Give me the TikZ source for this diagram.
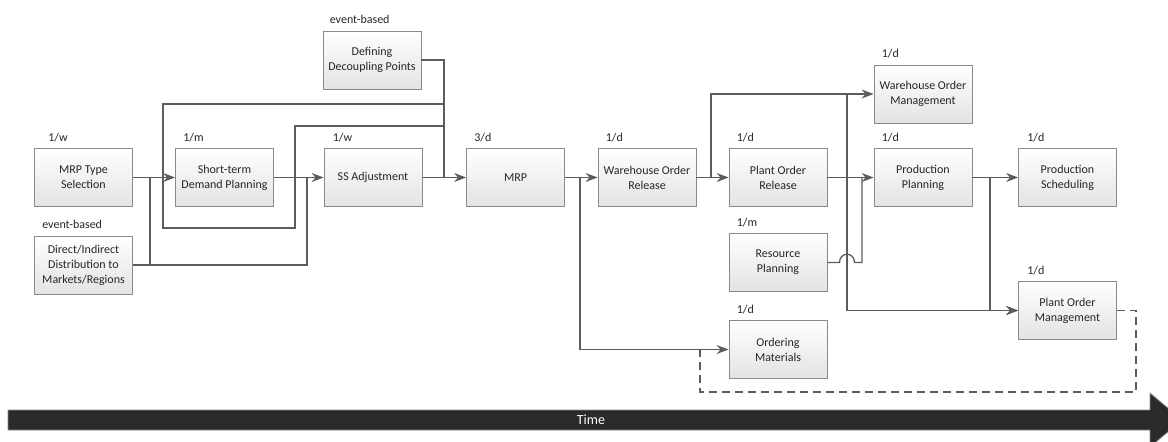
\documentclass[tikz,border=0pt]{standalone}
\usepackage{fontspec}
\setmainfont{Carlito}
\usetikzlibrary{arrows.meta}
\definecolor{boxgray}{HTML}{8A8A8A}
\definecolor{linegray}{HTML}{5C5C5C}
\definecolor{bardark}{HTML}{2A2A2A}
\begin{document}
\begin{tikzpicture}[x=1pt,y=-1pt,
  proc/.style={draw=boxgray, line width=0.8pt, top color=white, bottom color=black!11,
    minimum width=98pt, minimum height=58pt, align=center, inner sep=2pt,
    font=\fontsize{12}{15}\selectfont, text=black!85},
  freq/.style={anchor=base west, font=\fontsize{12}{14}\selectfont, inner sep=0pt, text=black!85},
  link/.style={draw=linegray, line width=1.3pt},
  flow/.style={link, -{Stealth[length=12pt,width=9pt,inset=4pt]}},
  feedback/.style={draw=linegray, line width=1.1pt, dash pattern=on 8pt off 5pt}
]
\useasboundingbox (0,0) rectangle (1168,442);

% process boxes
\node[proc] (mts) at (83.5,177.5) {MRP Type\\Selection};
\node[proc] (dir) at (83.5,265) {Direct/Indirect\\Distribution to\\Markets/Regions};
\node[proc] (std) at (224.5,177.5) {Short-term\\Demand Planning};
\node[proc] (ddp) at (372,60) {Defining\\Decoupling Points};
\node[proc] (ssa) at (373,177.5) {SS Adjustment};
\node[proc] (mrp) at (515.5,177.5) {MRP};
\node[proc] (wor) at (647,177.5) {Warehouse Order\\Release};
\node[proc] (por) at (778,177.5) {Plant Order\\Release};
\node[proc] (wom) at (923,94) {Warehouse Order\\Management};
\node[proc] (pp) at (923,177.5) {Production\\Planning};
\node[proc] (ps) at (1067.5,177.5) {Production\\Scheduling};
\node[proc] (rp) at (778,262.5) {Resource\\Planning};
\node[proc] (om) at (778,349.5) {Ordering\\Materials};
\node[proc] (pom) at (1067.5,310.5) {Plant Order\\Management};

% planning frequencies
\node[freq] (fmts) at ([xshift=14pt,yshift=7pt]mts.north west) {1/w};
\node[freq] (fdir) at ([xshift=8pt,yshift=7pt]dir.north west) {event-based};
\node[freq] (fstd) at ([xshift=8pt,yshift=7pt]std.north west) {1/m};
\node[freq] (fddp) at ([xshift=7pt,yshift=7pt]ddp.north west) {event-based};
\node[freq] (fssa) at ([xshift=9pt,yshift=7pt]ssa.north west) {1/w};
\node[freq] (fmrp) at ([xshift=8pt,yshift=7pt]mrp.north west) {3/d};
\node[freq] (fwor) at ([xshift=8pt,yshift=7pt]wor.north west) {1/d};
\node[freq] (fpor) at ([xshift=8pt,yshift=7pt]por.north west) {1/d};
\node[freq] (fwom) at ([xshift=8pt,yshift=7pt]wom.north west) {1/d};
\node[freq] (fpp) at ([xshift=8pt,yshift=7pt]pp.north west) {1/d};
\node[freq] (fps) at ([xshift=9pt,yshift=7pt]ps.north west) {1/d};
\node[freq] (frp) at ([xshift=8pt,yshift=7pt]rp.north west) {1/m};
\node[freq] (fom) at ([xshift=8pt,yshift=7pt]om.north west) {1/d};
\node[freq] (fpom) at ([xshift=9pt,yshift=7pt]pom.north west) {1/d};

% junction and bend points
\coordinate (jA) at (150,177.5);
\coordinate (jB) at (150,265);
\coordinate (jC) at (307,177.5);
\coordinate (lp) at (163,177.5);
\coordinate (lowR) at (295,228);
\coordinate (busA) at (444,104);
\coordinate (busB) at (444,126);
\coordinate (mrpIn) at (444,177.5);
\coordinate (jM) at (580,177.5);
\coordinate (jW) at (711,177.5);
\coordinate (jP) at (847,94);
\coordinate (rpUp) at (862,177.5);
\coordinate (jS) at (990,177.5);
\coordinate (dashBR) at (1136,392);
\coordinate (dashBL) at (700,392);

% connectors
\draw[flow] (mts.east) -- (std.west);
\draw[link] (jA) -- (jB);
\draw[link] (dir.east) -| (jC);
\draw[flow] (std.east) -- (ssa.west);
\draw[link] (lp) |- (busA);
\draw[link] (lp) |- (lowR) |- (busB);
\draw[link] (ddp.east) -| (mrpIn);
\draw[flow] (ssa.east) -- (mrp.west);
\draw[flow] (mrp.east) -- (wor.west);
\draw[flow] (jM) |- (om.west);
\draw[flow] (wor.east) -- (por.west);
\draw[flow] (jW) |- (wom.west);
\draw[flow] (por.east) -- (pp.west);
\draw[flow] (jP) |- (pom.west);
\draw[link] (rp.east) -- (839.5,262.5) .. controls (839.5,251.5) and (854.5,251.5) .. (854.5,262.5) -| (rpUp);
\draw[flow] (pp.east) -- (ps.west);
\draw[flow] (jS) |- (pom.west);
\draw[feedback] (pom.east) -| (dashBR) -- (dashBL) -- (dashBL |- om.west);

% time axis
\draw[draw=black!45, fill=bardark, line width=0.8pt]
  (8,410) -- (1150,410) -- (1150,393) -- (1182,420) -- (1150,447) -- (1150,430) -- (8,430) -- cycle;
\node[text=white, font=\fontsize{14}{16}\selectfont, inner sep=0pt] (time) at (591,420) {Time};
\end{tikzpicture}
\end{document}
